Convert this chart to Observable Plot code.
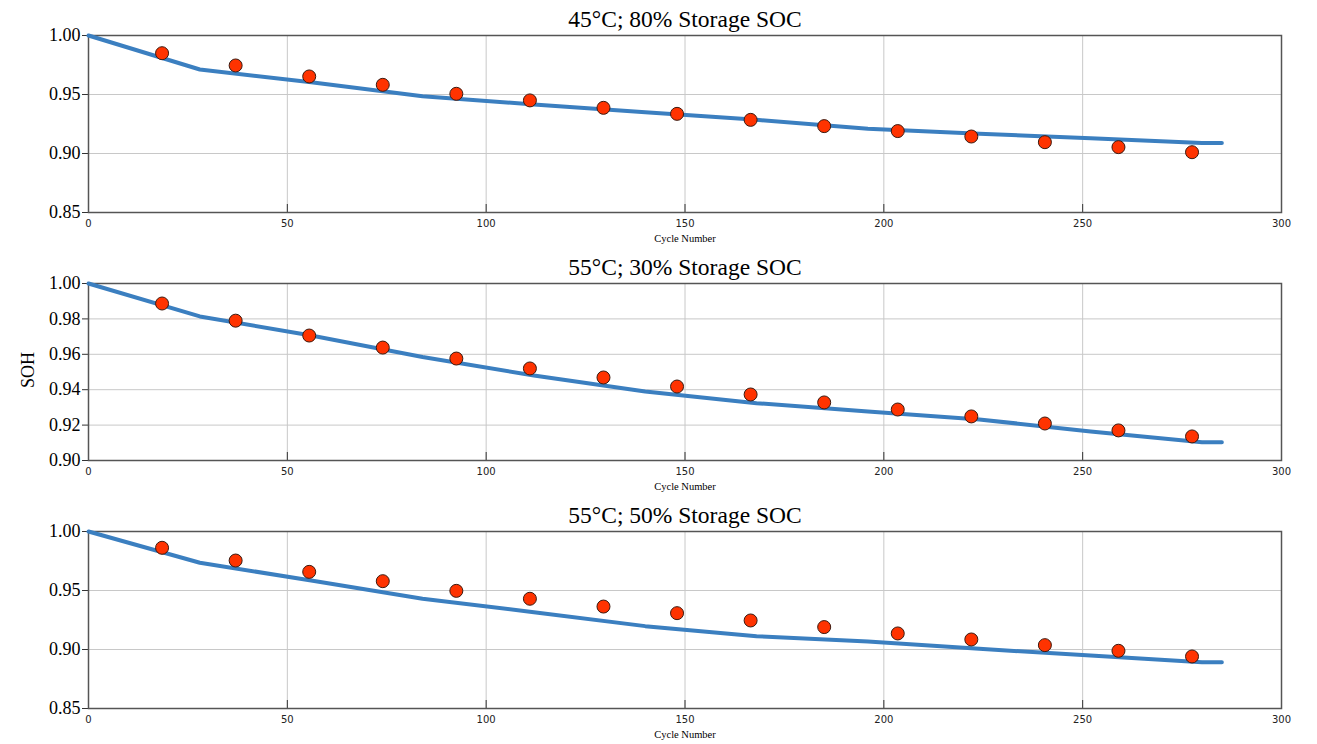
<!DOCTYPE html>
<html>
<head>
<meta charset="utf-8">
<script src="https://cdn.jsdelivr.net/npm/d3@7"></script>
<script src="https://cdn.jsdelivr.net/npm/@observablehq/plot@0.6"></script>
<style>
  html, body { margin: 0; padding: 0; background: white; }
  #chart svg { display: block; }
</style>
</head>
<body>
<div id="chart"></div>
<script>
// ---- data ----
const titles = ["45°C; 80% Storage SOC", "55°C; 30% Storage SOC", "55°C; 50% Storage SOC"];
const xTicks = [0, 50, 100, 150, 200, 250, 300];
const yTicksA = [0.85, 0.90, 0.95, 1.00];
const yTicksB = [0.90, 0.92, 0.94, 0.96, 0.98, 1.00];

const measCycles = [18.5, 37, 55.5, 74, 92.5, 111, 129.5, 148, 166.5, 185, 203.5, 222, 240.5, 259, 277.5];
const meas45_80 = [0.985, 0.9746, 0.9653, 0.9582, 0.9506, 0.945, 0.9387, 0.9336, 0.9285, 0.9232, 0.919, 0.9144, 0.9096, 0.9054, 0.9011];
const meas55_30 = [0.9887, 0.979, 0.9706, 0.9638, 0.9576, 0.952, 0.9469, 0.9418, 0.9373, 0.9328, 0.9288, 0.9249, 0.9209, 0.917, 0.9136];
const meas55_50 = [0.9862, 0.9754, 0.9658, 0.9579, 0.9497, 0.943, 0.9364, 0.9308, 0.9246, 0.919, 0.9136, 0.9085, 0.9037, 0.8989, 0.8941];

const modelCycles = [0, 28, 56, 84, 112, 140, 168, 196, 224, 252, 280, 285];
const model45_80 = [1.0, 0.9712, 0.9604, 0.9486, 0.9415, 0.935, 0.9285, 0.921, 0.9167, 0.913, 0.9088, 0.9088];
const model55_30 = [1.0, 0.9814, 0.9706, 0.9585, 0.948, 0.939, 0.9324, 0.9277, 0.9232, 0.9164, 0.9103, 0.9103];
const model55_50 = [1.0, 0.9735, 0.9585, 0.943, 0.9316, 0.9198, 0.9113, 0.9068, 0.9006, 0.8949, 0.8892, 0.8892];

const panels = [
  {title: titles[0], domain: [0.85, 1.0], ticks: yTicksA, meas: meas45_80, model: model45_80, ylabel: false},
  {title: titles[1], domain: [0.90, 1.0], ticks: yTicksB, meas: meas55_30, model: model55_30, ylabel: true},
  {title: titles[2], domain: [0.85, 1.0], ticks: yTicksA, meas: meas55_50, model: model55_50, ylabel: false}
];

const serif = "Liberation Serif";
const W = 1317, H = 248, ML = 88, MR = 36, MT = 35, MB = 36;
const plotW = W - ML - MR, plotH = H - MT - MB;
const fmt = d3.format(".2f");

for (const p of panels) {
  const pts = measCycles.map((c, i) => ({c, v: p.meas[i]}));
  const mdl = modelCycles.map((c, i) => ({c, v: p.model[i]}));
  const marks = [
    // grid
    Plot.ruleX(xTicks, {x: d => d, stroke: "#c8c8c8", strokeWidth: 1}),
    Plot.ruleY(p.ticks, {y: d => d, stroke: "#c8c8c8", strokeWidth: 1}),
    // y ticks (outward) and labels
    Plot.ruleY(p.ticks, {y: d => d, insetLeft: -6, insetRight: plotW, stroke: "#333", strokeWidth: 1}),
    Plot.text(p.ticks, {y: d => d, text: d => fmt(d), frameAnchor: "left", textAnchor: "end", dx: -8, fontSize: 18, fontFamily: serif, fill: "#000"}),
    // x ticks (inward) and labels
    Plot.ruleX(xTicks, {x: d => d, insetTop: plotH - 8, stroke: "#333", strokeWidth: 1}),
    Plot.text(xTicks, {x: d => d, text: d => String(d), frameAnchor: "bottom", lineAnchor: "middle", dy: 11, fontSize: 10, fontFamily: "DejaVu Sans", fill: "#222"}),
    Plot.frame({stroke: "#555", strokeWidth: 1.5}),
    Plot.line(mdl, {x: "c", y: "v", stroke: "#3b7fc0", strokeWidth: 4, strokeLinejoin: "round"}),
    Plot.dot(pts, {x: "c", y: "v", r: 6.5, fill: "#ff3300", stroke: "#3a1a10", strokeWidth: 1}),
    Plot.text([p.title], {frameAnchor: "top", lineAnchor: "middle", dy: -16, fontSize: 23.5, fontFamily: serif, fill: "#000"}),
    Plot.text(["Cycle Number"], {frameAnchor: "bottom", lineAnchor: "middle", dy: 26, fontSize: 10.5, fontFamily: serif, fill: "#000"})
  ];
  if (p.ylabel) {
    marks.push(Plot.text(["SOH"], {frameAnchor: "left", dx: -60, dy: 16, rotate: -90, fontSize: 18, fontFamily: serif, fill: "#000"}));
  }
  const chart = Plot.plot({
    width: W,
    height: H,
    marginLeft: ML,
    marginRight: MR,
    marginTop: MT,
    marginBottom: MB,
    style: {background: "white", overflow: "visible"},
    x: {domain: [0, 300], axis: null},
    y: {domain: p.domain, axis: null},
    marks
  });
  document.getElementById("chart").appendChild(chart);
}
</script>
</body>
</html>
